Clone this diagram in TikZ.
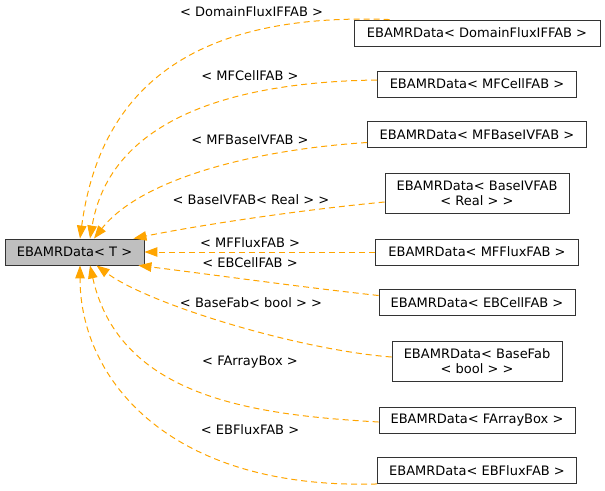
\documentclass[tikz,border=0pt]{standalone}
\usepackage{fontspec}
\setmainfont{DejaVu Sans}
\usetikzlibrary{arrows.meta}
\definecolor{inhorange}{HTML}{FFA500}
\definecolor{boxgray}{HTML}{BFBFBF}
\begin{document}
\begin{tikzpicture}[x=1pt,y=-1pt,
		cls/.style={draw=black!80,line width=0.9pt,fill=white,inner sep=0pt,align=center,minimum height=26pt,font=\fontsize{13}{15}\selectfont},
		lbl/.style={inner sep=0pt,font=\fontsize{13}{15}\selectfont},
		inh/.style={draw=inhorange,line width=1pt,dash pattern=on 6pt off 4pt,-{Triangle[length=13pt,width=9.5pt]}}]
				\useasboundingbox (0,0) rectangle (605,490);
				\node[cls,fill=boxgray,minimum width=139pt] (base) at (74.5,252) {EBAMRData< T >};
				% derived classes
				\node[cls,minimum width=246pt] (domflux) at (477,33) {EBAMRData< DomainFluxIFFAB >};
				\node[cls,minimum width=199pt] (mfcell) at (477,84) {EBAMRData< MFCellFAB >};
				\node[cls,minimum width=219pt] (mfbaseiv) at (477,134.5) {EBAMRData< MFBaseIVFAB >};
				\node[cls,minimum width=184pt,minimum height=40pt] (baseivreal) at (477,193) {EBAMRData< BaseIVFAB\\< Real > >};
				\node[cls,minimum width=203pt] (mfflux) at (477,252) {EBAMRData< MFFluxFAB >};
				\node[cls,minimum width=196pt] (ebcell) at (477,302.5) {EBAMRData< EBCellFAB >};
				\node[cls,minimum width=170pt,minimum height=40pt] (basefabbool) at (477,361) {EBAMRData< BaseFab\\< bool > >};
				\node[cls,minimum width=196pt] (farray) at (477,420) {EBAMRData< FArrayBox >};
				\node[cls,minimum width=199pt] (ebflux) at (477,470.5) {EBAMRData< EBFluxFAB >};
				% template arguments
				\node[lbl] (l-domflux) at (251.5,12) {< DomainFluxIFFAB >};
				\node[lbl] (l-mfcell) at (250,76) {< MFCellFAB >};
				\node[lbl] (l-mfbaseiv) at (250,140) {< MFBaseIVFAB >};
				\node[lbl] (l-baseivreal) at (251,200) {< BaseIVFAB< Real > >};
				\node[lbl] (l-mfflux) at (250,243) {< MFFluxFAB >};
				\node[lbl] (l-ebcell) at (250,263) {< EBCellFAB >};
				\node[lbl] (l-basefabbool) at (251,303) {< BaseFab< bool > >};
				\node[lbl] (l-farray) at (250,362) {< FArrayBox >};
				\node[lbl] (l-ebflux) at (250,430) {< EBFluxFAB >};
				% inheritance edges
				\draw[inh] ([xshift=36pt]domflux.north west) .. controls (190,12) and (100,90) .. ([xshift=5.5pt]base.north);
				\draw[inh] ([yshift=4pt]mfcell.west) .. controls (230,82) and (110,120) .. ([xshift=15.5pt]base.north);
				\draw[inh] ([yshift=-8pt]mfbaseiv.west) .. controls (250,150) and (140,180) .. ([xshift=19.5pt]base.north);
				\draw[inh] ([yshift=-9pt]baseivreal.west) .. controls (300,210) and (200,225) .. ([xshift=-11pt]base.north east);
				\draw[inh] (mfflux.west) -- (base.east);
				\draw[inh] ([yshift=7pt]ebcell.west) .. controls (300,287) and (200,273) .. ([xshift=-6pt]base.south east);
				\draw[inh] ([yshift=4pt]basefabbool.west) .. controls (300,350) and (150,305) .. ([xshift=22pt]base.south);
				\draw[inh] ([yshift=-2pt]farray.west) .. controls (260,415) and (120,400) .. ([xshift=15.5pt]base.south);
				\draw[inh] (ebflux.south west) .. controls (170,490) and (80,380) .. ([xshift=5.5pt]base.south);
			\end{tikzpicture}
\end{document}
